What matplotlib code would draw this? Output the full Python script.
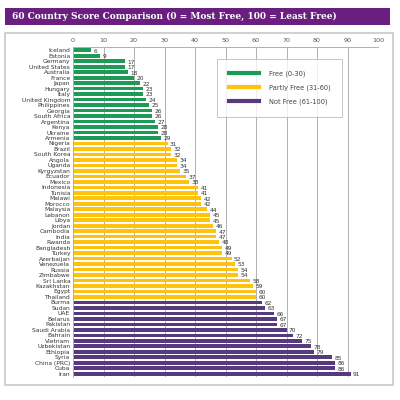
import matplotlib
matplotlib.use('Agg')
import matplotlib.pyplot as plt
from matplotlib.patches import Rectangle
from matplotlib.lines import Line2D

# datos
countries_free = ['Iceland', 'Estonia', 'Germany', 'United States', 'Australia', 'France',
                  'Japan', 'Hungary', 'Italy', 'United Kingdom', 'Philippines', 'Georgia',
                  'South Africa', 'Argentina', 'Kenya', 'Ukraine', 'Armenia']
scores_free = [6, 9, 17, 17, 18, 20, 22, 23, 23, 24, 25, 26, 26, 27, 28, 28, 29]

countries_partly = ['Nigeria', 'Brazil', 'South Korea', 'Angola', 'Uganda', 'Kyrgyzstan',
                    'Ecuador', 'Mexico', 'Indonesia', 'Tunisia', 'Malawi', 'Morocco',
                    'Malaysia', 'Lebanon', 'Libya', 'Jordan', 'Cambodia', 'India', 'Rwanda',
                    'Bangladesh', 'Turkey', 'Azerbaijan', 'Venezuela', 'Russia', 'Zimbabwe',
                    'Sri Lanka', 'Kazakhstan', 'Egypt', 'Thailand']
scores_partly = [31, 32, 32, 34, 34, 35, 37, 38, 41, 41, 42, 42, 44, 45, 45, 46, 47, 47, 48,
                 49, 49, 52, 53, 54, 54, 58, 59, 60, 60]

countries_not = ['Burma', 'Sudan', 'UAE', 'Belarus', 'Pakistan', 'Saudi Arabia', 'Bahrain',
                 'Vietnam', 'Uzbekistan', 'Ethiopia', 'Syria', 'China (PRC)', 'Cuba', 'Iran']
scores_not = [62, 63, 66, 67, 67, 70, 72, 75, 78, 79, 85, 86, 86, 91]

legend_labels = ['Free (0-30)', 'Partly Free (31-60)', 'Not Free (61-100)']
x_ticks = [0, 10, 20, 30, 40, 50, 60, 70, 80, 90, 100]

green = '#1e9a57'
gold = '#ffc20e'
purple = '#56397f'
title_purple = '#6a1f80'

countries = countries_free + countries_partly + countries_not
scores = scores_free + scores_partly + scores_not
colors = [green] * len(scores_free) + [gold] * len(scores_partly) + [purple] * len(scores_not)

fig = plt.figure(figsize=(4, 4), dpi=100)

# barra del titulo y marco del panel
fig.patches.append(Rectangle((0.0125, 0.9375), 0.9625, 0.043, transform=fig.transFigure,
                             facecolor=title_purple, edgecolor='none'))
fig.text(0.03, 0.958, '60 Country Score Comparison (0 = Most Free, 100 = Least Free)',
         color='white', fontsize=6.5, fontweight='bold', family='DejaVu Serif', va='center')
fig.patches.append(Rectangle((0.0125, 0.038), 0.97, 0.88, transform=fig.transFigure,
                             facecolor='none', edgecolor='#c8c8c8', linewidth=1.2))

ax = fig.add_axes([0.1825, 0.0575, 0.7625, 0.825])
y = list(range(len(countries)))
ax.barh(y, scores, color=colors, height=0.66)
for yi, s in zip(y, scores):
    ax.text(s + 0.8, yi + 0.15, str(s), fontsize=4.2, color='#333333', va='center')

ax.set_xlim(0, 100)
ax.set_ylim(len(countries) - 0.4, -0.6)
ax.set_xticks(x_ticks)
ax.set_yticks(y)
ax.set_yticklabels(countries)
ax.xaxis.tick_top()
ax.tick_params(axis='x', length=0, labelsize=4.6, labelcolor='#555555', pad=3)
ax.tick_params(axis='y', length=0, labelsize=4.3, labelcolor='#333333', pad=2)
ax.grid(axis='x', color='#b0b0b0', linewidth=0.7)
ax.set_axisbelow(True)
for side in ['right', 'bottom']:
    ax.spines[side].set_visible(False)
for side in ['top', 'left']:
    ax.spines[side].set_color('#b0b0b0')
    ax.spines[side].set_linewidth(0.7)

handles = [Line2D([0], [0], color=c, linewidth=3) for c in [green, gold, purple]]
leg = ax.legend(handles, legend_labels, loc='upper left', bbox_to_anchor=(0.46, 0.975),
                fontsize=4.8, frameon=True, fancybox=False, handlelength=4.5,
                borderpad=1.8, labelspacing=1.1, handletextpad=1.5, labelcolor='#444444')
leg.get_frame().set_edgecolor('#aaaaaa')
leg.get_frame().set_linewidth(0.6)

fig.savefig('out.png', dpi=100)
